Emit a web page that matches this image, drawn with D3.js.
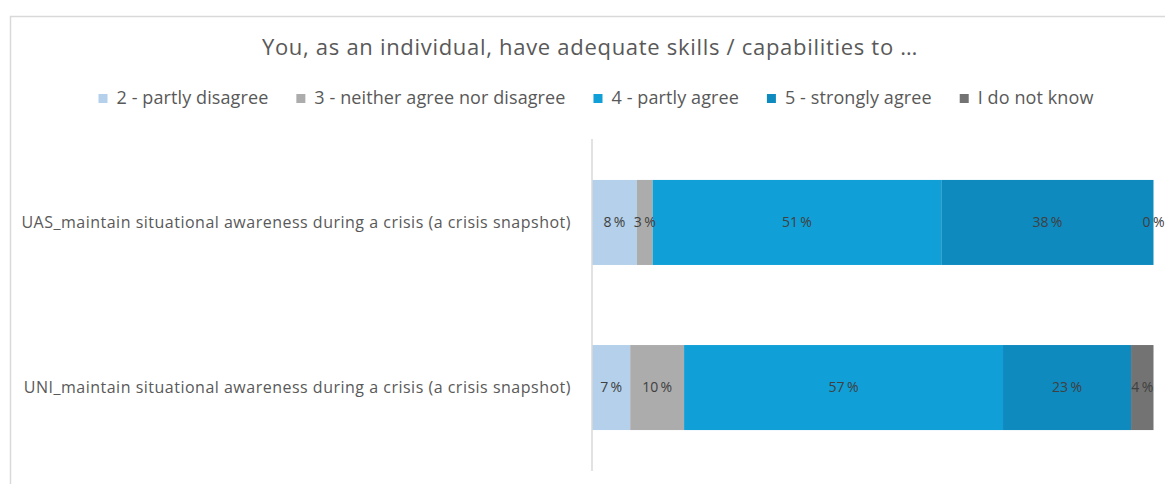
<!DOCTYPE html>
<html>
<head>
<meta charset="utf-8">
<script src="https://cdn.jsdelivr.net/npm/d3@7"></script>
<style>
  html, body { margin: 0; padding: 0; background: #fff; }
  svg { display: block; font-family: "Open Sans", "Liberation Sans", sans-serif; }
</style>
</head>
<body>
<svg id="chart" width="1165" height="484"></svg>
<script>
const title = "You, as an individual, have adequate skills / capabilities to …";
const categories = [
  "UAS_maintain situational awareness during a crisis (a crisis snapshot)",
  "UNI_maintain situational awareness during a crisis (a crisis snapshot)"
];
const seriesNames = ["2 - partly disagree", "3 - neither agree nor disagree", "4 - partly agree", "5 - strongly agree", "I do not know"];
const seriesColors = ["#b4d0ea", "#acacac", "#109fd7", "#0e8abf", "#737373"];
const partlyDisagree = [8.0, 6.8];
const neither = [2.8, 9.6];
const partlyAgree = [51.4, 56.8];
const stronglyAgree = [37.8, 22.8];
const doNotKnow = [0.0, 4.0];

const seriesValues = [partlyDisagree, neither, partlyAgree, stronglyAgree, doNotKnow];
const rows = categories.map((c, i) => {
  const r = { category: c };
  seriesNames.forEach((s, k) => r[s] = seriesValues[k][i]);
  return r;
});

const svg = d3.select("#chart");

// chart frame
svg.append("rect").attr("x", 10.5).attr("y", 16.5).attr("width", 1170).attr("height", 480)
  .attr("fill", "#fff").attr("stroke", "#d9d9d9").attr("stroke-width", 1.5);

// title
svg.append("text").attr("x", 590).attr("y", 55).attr("text-anchor", "middle")
  .attr("font-size", 22).attr("letter-spacing", 0.7).attr("fill", "#595959").text(title);

const x = d3.scaleLinear().domain([0, 100]).range([592, 1153.5]);
const y = d3.scaleBand().domain(categories).range([139, 471]).paddingInner(0.485).paddingOuter(0.248);

const stack = d3.stack().keys(seriesNames)(rows);
const color = d3.scaleOrdinal().domain(seriesNames).range(seriesColors);

const g = svg.append("g");
const layers = g.selectAll("g.layer").data(stack).join("g").attr("class", "layer")
  .attr("fill", d => color(d.key));
layers.selectAll("rect").data(d => d).join("rect")
  .attr("x", d => x(d[0]))
  .attr("y", d => y(d.data.category))
  .attr("width", d => x(d[1]) - x(d[0]))
  .attr("height", y.bandwidth());

// data labels
const labels = svg.append("g");
stack.forEach(layer => {
  layer.forEach(d => {
    labels.append("text")
      .attr("x", (x(d[0]) + x(d[1])) / 2)
      .attr("y", y(d.data.category) + y.bandwidth() / 2)
      .attr("dy", "0.35em")
      .attr("text-anchor", "middle")
      .attr("font-size", 14)
      .attr("fill", "#404040")
      .text(Math.round(d[1] - d[0]) + "\u2009%");
  });
});

// category axis
const yAxis = d3.axisLeft(y).tickSize(0).tickPadding(21);
const ag = svg.append("g").attr("transform", "translate(592,0)").call(yAxis);
ag.select(".domain").remove();
ag.selectAll("text").attr("font-size", 16).attr("letter-spacing", 0.5).attr("fill", "#595959")
  .attr("font-family", "\"Open Sans\", sans-serif");
svg.append("line").attr("x1", 592).attr("x2", 592).attr("y1", 139).attr("y2", 471)
  .attr("stroke", "#d9d9d9").attr("stroke-width", 1.5);

// legend
const lg = svg.append("g");
const items = lg.selectAll("g").data(seriesNames).join("g");
items.append("rect").attr("width", 9).attr("height", 9).attr("y", -10).attr("fill", d => color(d));
items.append("text").attr("x", 18).attr("font-size", 18).attr("letter-spacing", 0.1).attr("fill", "#595959").text(d => d);
const widths = [];
items.each(function () { widths.push(this.querySelector("text").getComputedTextLength()); });
const gap = 28;
const total = d3.sum(widths) + widths.length * 18 + (widths.length - 1) * gap;
let start = 596 - total / 2;
items.attr("transform", (d, i) => {
  const t = `translate(${start},104)`;
  start += widths[i] + 18 + gap;
  return t;
});
</script>
</body>
</html>
